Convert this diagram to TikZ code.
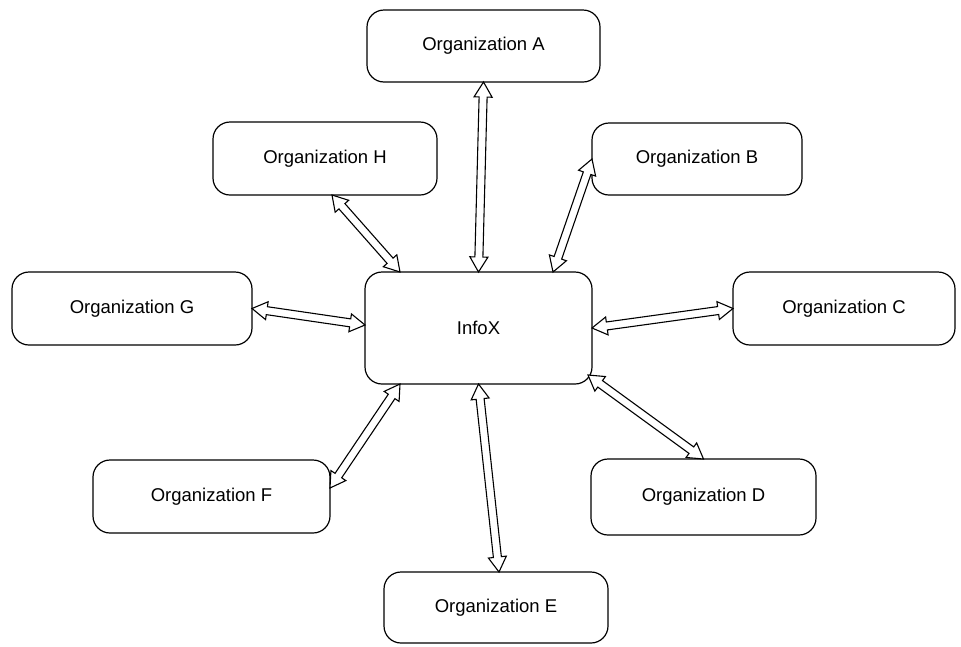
\documentclass[tikz,border=0pt]{standalone}
\usepackage{fontspec}
\setmainfont{Liberation Sans}
\usetikzlibrary{calc}
\tikzset{
  orgbox/.style={draw, line width=1.2pt, rounded corners=17pt, inner sep=0pt, outer sep=0pt,
    font=\fontsize{18.5}{22}\selectfont, align=center},
  arrowline/.style={draw, line width=1.1pt, fill=white, line join=miter},
}
\newcommand{\hollowarrow}[2]{%
  \path (#1) coordinate (ha-p) (#2) coordinate (ha-q);
  \path ($(ha-p)!15pt!(ha-q)$) coordinate (ha-p1) ($(ha-q)!15pt!(ha-p)$) coordinate (ha-q1);
  \draw[arrowline] (ha-p) -- ($(ha-p1)!9pt!90:(ha-q)$) -- ($(ha-p1)!4pt!90:(ha-q)$)
    -- ($(ha-q1)!4pt!-90:(ha-p)$) -- ($(ha-q1)!9pt!-90:(ha-p)$) -- (ha-q)
    -- ($(ha-q1)!9pt!90:(ha-p)$) -- ($(ha-q1)!4pt!90:(ha-p)$)
    -- ($(ha-p1)!4pt!-90:(ha-q)$) -- ($(ha-p1)!9pt!-90:(ha-q)$) -- cycle;
}
\begin{document}
\begin{tikzpicture}[x=1pt, y=-1pt]
\useasboundingbox (0,0) rectangle (961,646);
\node[orgbox, minimum width=233pt, minimum height=72pt] (A) at (483.5,46) {Organization A};
\node[orgbox, minimum width=224pt, minimum height=73pt] (H) at (325,158.5) {Organization H};
\node[orgbox, minimum width=210pt, minimum height=72pt] (B) at (697,159) {Organization B};
\node[orgbox, minimum width=240pt, minimum height=73pt] (G) at (132,308.5) {Organization G};
\node[orgbox, minimum width=227pt, minimum height=112pt] (X) at (478.5,328) {InfoX};
\node[orgbox, minimum width=222pt, minimum height=73pt] (C) at (844,308.5) {Organization C};
\node[orgbox, minimum width=237pt, minimum height=73pt] (F) at (211.5,496.5) {Organization F};
\node[orgbox, minimum width=225pt, minimum height=76pt] (D) at (703.5,497) {Organization D};
\node[orgbox, minimum width=224pt, minimum height=71pt] (E) at (496,607.5) {Organization E};

\hollowarrow{A.south}{X.north}
\hollowarrow{[xshift=7pt]H.south}{[xshift=35pt]X.north west}
\hollowarrow{B.west}{[xshift=-39pt]X.north east}
\hollowarrow{G.east}{[yshift=3pt]X.west}
\hollowarrow{X.east}{C.west}
\hollowarrow{[xshift=35pt]X.south west}{[yshift=8.5pt]F.east}
\hollowarrow{[shift={(-4pt,9pt)}]X.south east}{D.north}
\hollowarrow{X.south}{[xshift=3pt]E.north}
\end{tikzpicture}
\end{document}
